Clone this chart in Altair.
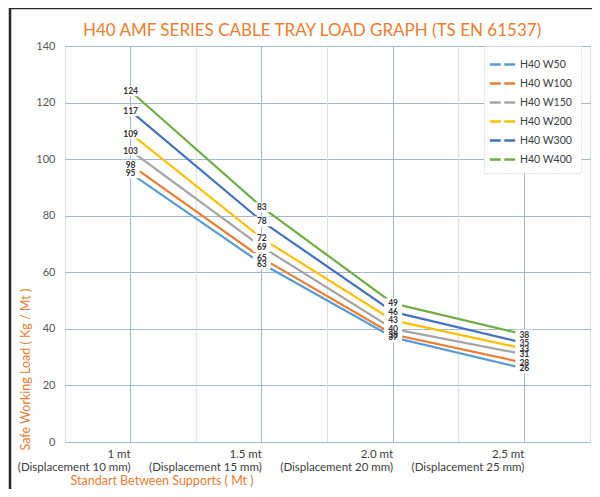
import altair as alt
import pandas as pd

# ---- data ----
spans = ["1 mt", "1.5 mt", "2.0 mt", "2.5 mt"]
displacements = ["(Displacement 10 mm)", "(Displacement 15 mm)",
                 "(Displacement 20 mm)", "(Displacement 25 mm)"]
series = ["H40 W50", "H40 W100", "H40 W150", "H40 W200", "H40 W300", "H40 W400"]
w50 = [95, 63, 37, 26]
w100 = [98, 65, 38, 28]
w150 = [103, 69, 40, 31]
w200 = [109, 72, 43, 33]
w300 = [117, 78, 46, 35]
w400 = [124, 83, 49, 38]
colors = ["#5B9BD5", "#ED7D31", "#A5A5A5", "#FFC000", "#4472C4", "#70AD47"]
title_text = "H40 AMF SERIES CABLE TRAY LOAD GRAPH (TS EN 61537)"

cats = [f"{s}|{d}" for s, d in zip(spans, displacements)]
values = [w50, w100, w150, w200, w300, w400]
rows = []
for name, vals in zip(series, values):
    for c, v in zip(cats, vals):
        rows.append({"cat": c, "series": name, "value": v})
df = pd.DataFrame(rows)
bounds = pd.DataFrame({"cat": cats[1:]})
title_df = pd.DataFrame({"t": [title_text]})

W, H = 525, 396
ORANGE = "#ED7D31"
FONT = "Lato"

xenc = alt.X("cat:N", sort=cats, scale=alt.Scale(paddingInner=0, paddingOuter=0),
             axis=alt.Axis(labelExpr="split(datum.label, '|')", labelAngle=0,
                           labelFont=FONT, labelFontSize=11.5, labelColor="#404040",
                           labelLineHeight=13.5, labelPadding=6, labelBaseline="top",
                           ticks=False, domain=False, grid=True, bandPosition=0.5,
                           gridColor="#9DBBD9", gridWidth=1,
                           title="Standart Between Supports ( Mt )",
                           titleFont=FONT, titleFontSize=12.5, titleFontWeight="normal",
                           titleColor=ORANGE, titleAnchor="start", titleAlign="left",
                           titleX=5, titleY=38, titleBaseline="middle"))
yenc = alt.Y("value:Q", scale=alt.Scale(domain=[0, 140], nice=False),
             axis=alt.Axis(values=[0, 20, 40, 60, 80, 100, 120, 140],
                           labelFont=FONT, labelFontSize=11, labelColor="#595959",
                           labelPadding=10, ticks=False, domain=False,
                           gridColor="#9DBBD9", gridWidth=1,
                           title="Safe Working Load ( Kg / Mt )",
                           titleFont=FONT, titleFontSize=12.5, titleFontWeight="normal",
                           titleColor=ORANGE, titleAngle=270, titleAlign="left",
                           titleBaseline="middle", titleX=-40, titleY=404))

color = alt.Color("series:N", sort=series,
                  scale=alt.Scale(domain=series, range=colors),
                  legend=alt.Legend(title=None, orient="none", legendX=419, legendY=0,
                                    symbolType="M-1.4,0H-0.2M0.2,0H1.4",
                                    symbolSize=324, symbolStrokeWidth=2.5,
                                    labelFont=FONT, labelFontSize=10.5,
                                    labelColor="#404040", labelOffset=7,
                                    symbolOffset=0,
                                    fillColor="white", strokeColor="#C8C8C8"))

rules = alt.Chart(bounds).mark_rule(color="#DDDDDD", strokeWidth=1).encode(
    x=alt.X("cat:N", sort=cats, bandPosition=0)
)
lines = alt.Chart(df).mark_line(strokeWidth=2.2).encode(x=xenc, y=yenc, color=color)
boxes = alt.Chart(df).mark_point(
    shape="M-1,-0.55H1V0.55H-1Z", filled=True, fill="white", opacity=1,
    size=324
).encode(x=alt.X("cat:N", sort=cats), y="value:Q")
texts = alt.Chart(df).mark_text(
    font=FONT, fontSize=8.5, fontWeight="bold", color="#333333"
).encode(x=alt.X("cat:N", sort=cats), y="value:Q", text="value:Q")
title = alt.Chart(title_df).mark_text(
    font=FONT, fontSize=17, color=ORANGE, align="left", baseline="middle"
).encode(x=alt.value(18), y=alt.value(-15), text="t:N")
frame = alt.Chart(title_df).mark_rect(
    fill="transparent", stroke="#262626", strokeWidth=2.5, clip=False
).encode(x=alt.value(-55), y=alt.value(-38), x2=alt.value(600), y2=alt.value(600))

chart = alt.layer(rules, lines, boxes, texts, title, frame).properties(
    width=W, height=H,
    padding={"left": 57, "top": 38, "right": 2, "bottom": 47},
    autosize=alt.AutoSizeParams(type="none"),
).configure_view(stroke="#262626", strokeWidth=2.5).configure(
    background="white"
).configure_legend(padding=8, rowPadding=3, strokeDash=[1, 2])

chart.save("out.html", embed_options={"renderer": "svg", "actions": False})
